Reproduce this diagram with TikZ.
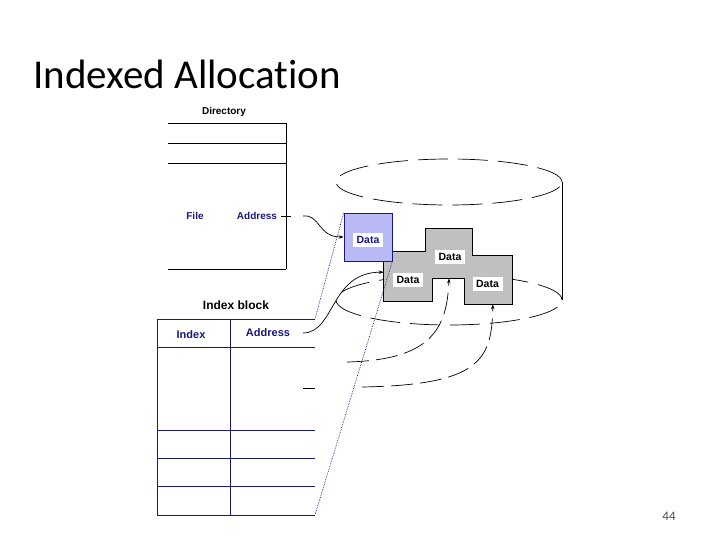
\documentclass[tikz,border=0pt]{standalone}
\usepackage{fontspec}
\setmainfont{Carlito}[Ligatures=NoCommon]
\newfontfamily\figfont{Liberation Sans}
\usepackage{tikz}
\usetikzlibrary{arrows.meta}

\definecolor{navy}{RGB}{25,25,125}
\definecolor{blockblue}{RGB}{185,185,245}
\definecolor{blockgray}{RGB}{192,192,192}

\tikzset{
  figtext/.style={font=\figfont\bfseries\fontsize{10}{12}\selectfont, inner sep=0pt},
  datalabel/.style={figtext, fill=white, minimum width=30pt, minimum height=14pt, font=\figfont\bfseries\fontsize{10.5}{12}\selectfont},
  blk/.style={draw=none, inner sep=0pt},
  ptr/.style={-{Stealth[length=5pt,width=3.5pt]}},
  diskline/.style={dash pattern=on 30pt off 10pt}
}

\begin{document}
\begin{tikzpicture}[x=1pt, y=-1pt, line width=.7pt]
  \useasboundingbox (0,0) rectangle (720,540);
  \node[anchor=base west, inner sep=0pt, font=\fontsize{41}{48}\selectfont] (title) at (33,89) {Indexed Allocation};
  \node[font=\fontsize{13}{15}\selectfont, text=black!70] (pagenum) at (669,516) {44};

  % directory
  \node[figtext] (dirlabel) at (224,112) {Directory};
  \foreach \y in {123,143,163,269}
    \draw (168,\y) -- (286,\y);
  \draw (286,123) -- (286,269);
  \node[figtext, text=navy] (file) at (195,216) {File};
  \node[figtext, text=navy] (diraddr) at (257,216) {Address};

  % disk
  \draw[diskline] (449,182) ellipse [x radius=113pt, y radius=23pt];
  \draw[diskline] (449,300) ellipse [x radius=113pt, y radius=25pt];
  \draw (562,182) -- (562,300);

  % data blocks
  \node[blk, minimum width=48pt, minimum height=49pt] (blkA) at (408,276.5) {};
  \node[blk, minimum width=46pt, minimum height=49pt] (blkB) at (449,253.5) {};
  \node[blk, minimum width=47pt, minimum height=48pt] (blkC) at (488.5,280) {};
  \foreach \b in {blkA,blkB,blkC}
    \fill[blockgray] (\b.north west) rectangle (\b.south east);
  \draw (blkA.north west) -- (blkA.north west -| blkB.west) -- (blkB.north west)
    -- (blkB.north east) -- (blkB.north east |- blkC.north) -- (blkC.north east)
    -- (blkC.south east) -- (blkC.south west) -- (blkC.west |- blkB.south)
    -- (blkA.east |- blkB.south) -- (blkA.south east) -- (blkA.south west) -- cycle;
  \node[draw=navy, fill=blockblue, minimum width=48pt, minimum height=48pt, inner sep=0pt] (blue) at (368,237) {};
  \node[datalabel, text=navy] (bluedata) at (368,240) {Data};
  \node[datalabel] (dataA) at (408,279.5) {Data};
  \node[datalabel] (dataB) at (450,257) {Data};
  \node[datalabel] (dataC) at (487.5,284) {Data};

  % index block
  \node[figtext, font=\figfont\bfseries\fontsize{12}{14}\selectfont] (idxlabel) at (236,305) {Index block};
  \foreach \y in {319,347,430,458,486,515}
    \draw[navy] (157,\y) -- (315,\y);
  \draw[navy] (157,319) -- (157,515);
  \draw[navy] (230,319) -- (230,515);
  \coordinate (idxtop) at (315,319);
  \coordinate (idxbot) at (315,515);
  \node[figtext, text=navy, font=\figfont\bfseries\fontsize{11}{13}\selectfont] (idx) at (191,335) {Index};
  \node[figtext, text=navy, font=\figfont\bfseries\fontsize{11}{13}\selectfont] (idxaddr) at (268,333) {Address};

  % pointers
  \coordinate (dirA) at (281,216);
  \coordinate (dirB) at (291,216);
  \coordinate (dirC) at (303,216);
  \draw (dirA) -- (dirB);
  \draw[ptr] (dirC) .. controls (320,214) and (318,237) .. (blue.west);
  \coordinate (row1) at (303,333);
  \draw[ptr] (row1) .. controls (335,333) and (330,272) .. (blkA.170);
  \coordinate (row2) at (347,362);
  \draw[ptr, dash pattern=on 22pt off 7pt] (row2) .. controls (430,360) and (447,330) .. (blkB.south);
  \coordinate (row3a) at (303,388);
  \coordinate (row3b) at (315,388);
  \coordinate (row3c) at (362,387);
  \draw (row3a) -- (row3b);
  \draw[ptr, dash pattern=on 22pt off 7pt] (row3c) .. controls (480,385) and (492,360) .. (blkC.280);

  % block contents
  \draw[navy, densely dotted] (blue.north west) -- (idxtop);
  \draw[navy, densely dotted] (blue.south east) -- (idxbot);
\end{tikzpicture}
\end{document}
